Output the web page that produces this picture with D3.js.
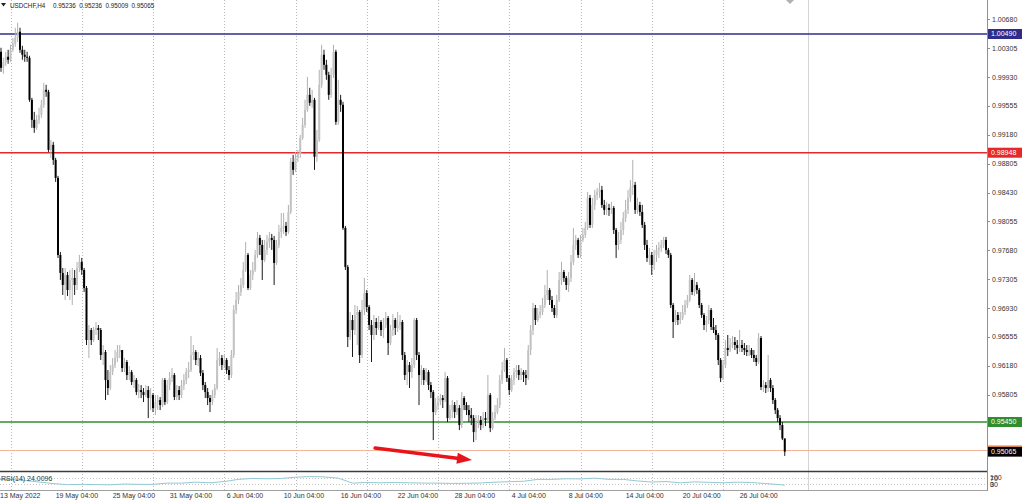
<!DOCTYPE html>
<html><head><meta charset="utf-8">
<script src="https://cdn.jsdelivr.net/npm/d3@7"></script>
<style>html,body{margin:0;padding:0;background:#fff;overflow:hidden}svg text{white-space:pre}</style>
</head><body><svg id="c" width="1024" height="500"></svg>
<script>
// ---------------- DATA ----------------
const symbol = "USDCHF,H4";
const firstOpen = 1.00311;
const closes = [
1.00285,1.00259,1.00051,1.00129,1.00194,1.00155,1.00285,1.00363,1.00441,1.00519,
1.00285,1.00220,1.00194,1.00181,0.99635,0.99375,0.99271,0.99375,0.99440,0.99570,
0.99765,0.99739,0.98985,0.99050,0.98855,0.98621,0.97620,0.97386,0.97230,0.97360,
0.97165,0.97295,0.97321,0.97230,0.97451,0.97529,0.97425,0.97191,0.96515,0.96645,
0.96515,0.96645,0.96671,0.96645,0.96320,0.96359,0.95995,0.95891,0.96099,0.96190,
0.96281,0.96359,0.96385,0.96151,0.96229,0.96060,0.96099,0.95969,0.95995,0.95839,
0.95865,0.95839,0.95800,0.95865,0.95761,0.95800,0.95631,0.95709,0.95735,0.95670,
0.95995,0.95709,0.95930,0.96021,0.96060,0.95774,0.95865,0.95800,0.95930,0.95995,
0.96099,0.96125,0.96320,0.96359,0.96255,0.96281,0.96086,0.95930,0.95839,0.95761,
0.95709,0.95800,0.95891,0.96255,0.96281,0.96190,0.96255,0.96125,0.96060,0.96320,
0.96905,0.97035,0.97139,0.97230,0.97425,0.97620,0.97191,0.97360,0.97425,0.97620,
0.97841,0.97750,0.97555,0.97685,0.97789,0.97841,0.97815,0.97516,0.97750,0.97919,
0.97971,0.97997,0.97919,0.98179,0.98829,0.98725,0.98881,0.98933,0.99141,0.99310,
0.99505,0.99700,0.99596,0.99635,0.98894,0.99115,0.99830,1.00220,1.00090,0.99960,
0.99700,0.99960,1.00259,0.99349,0.99635,0.99570,0.97971,0.97464,0.96554,0.96775,
0.96645,0.96840,0.96879,0.96320,0.96905,0.97126,0.96944,0.96710,0.96580,0.96749,
0.96671,0.96749,0.96645,0.96710,0.96801,0.96476,0.96645,0.96775,0.96671,0.96710,
0.96749,0.96320,0.96060,0.96190,0.96099,0.96190,0.96775,0.96320,0.96060,0.96125,
0.95995,0.96099,0.95930,0.95839,0.95579,0.95670,0.95709,0.95761,0.95735,0.96021,
0.95501,0.95605,0.95670,0.95579,0.95631,0.95410,0.95761,0.95670,0.95605,0.95540,
0.95501,0.95319,0.95449,0.95475,0.95410,0.95501,0.95475,0.95800,0.95371,0.95501,
0.95579,0.95670,0.95995,0.96125,0.96255,0.96021,0.95865,0.95995,0.96099,0.96125,
0.96060,0.96099,0.96060,0.96021,0.96385,0.96645,0.96931,0.96775,0.96840,0.96879,
0.96970,0.97100,0.97165,0.97035,0.96931,0.96840,0.97035,0.97295,0.97399,0.97321,
0.97230,0.97321,0.97529,0.97750,0.97815,0.97620,0.97815,0.97880,0.97971,0.98361,
0.98010,0.98270,0.98400,0.98439,0.98465,0.98270,0.98205,0.98231,0.98205,0.98231,
0.97945,0.97750,0.97815,0.97945,0.98101,0.98205,0.98361,0.98491,0.98530,0.98205,
0.98270,0.98179,0.98010,0.97750,0.97581,0.97620,0.97490,0.97620,0.97685,0.97711,
0.97750,0.97815,0.97685,0.97620,0.96970,0.96749,0.96840,0.96775,0.96801,0.96879,
0.96970,0.97035,0.97295,0.97139,0.97230,0.97165,0.96970,0.96840,0.96710,0.96775,
0.96905,0.96684,0.96645,0.96580,0.96255,0.96021,0.96190,0.96411,0.96385,0.96450,
0.96489,0.96450,0.96411,0.96450,0.96411,0.96385,0.96359,0.96385,0.96320,0.96281,
0.96229,0.96541,0.95904,0.95930,0.95891,0.95995,0.95891,0.95735,0.95605,0.95501,
0.95410,0.95236,0.95065];
const highs = [
1.00350,1.00337,1.00311,1.00181,1.00259,1.00285,1.00350,1.00441,1.00571,1.00636,
1.00571,1.00337,1.00285,1.00259,1.00207,0.99661,0.99479,0.99440,0.99531,0.99635,
0.99856,0.99830,0.99765,0.99115,0.99089,0.98881,0.98647,0.97659,0.97451,0.97451,
0.97399,0.97425,0.97451,0.97425,0.97529,0.97620,0.97581,0.97451,0.97217,0.96710,
0.96671,0.96684,0.96749,0.96710,0.96671,0.96450,0.96385,0.96125,0.96190,0.96281,
0.96385,0.96450,0.96450,0.96385,0.96281,0.96255,0.96177,0.96125,0.96060,0.96021,
0.95943,0.95930,0.95891,0.95930,0.95917,0.95891,0.95826,0.95800,0.95800,0.95774,
0.96021,0.96021,0.95995,0.96099,0.96151,0.96086,0.95930,0.95917,0.95995,0.96073,
0.96151,0.96229,0.96567,0.96450,0.96385,0.96359,0.96320,0.96125,0.95969,0.95891,
0.95800,0.95865,0.95943,0.96411,0.96359,0.96320,0.96333,0.96281,0.96177,0.96385,
0.96970,0.97139,0.97230,0.97321,0.97529,0.97789,0.97646,0.97425,0.97529,0.97685,
0.97919,0.97880,0.97815,0.97815,0.97880,0.97919,0.97893,0.97867,0.97815,0.98010,
0.98166,0.98166,0.98049,0.98270,0.98881,0.98920,0.98959,0.98985,0.99180,0.99401,
0.99635,0.99934,0.99791,0.99765,0.99661,0.99245,1.00025,1.00350,1.00285,1.00155,
0.99999,1.00051,1.00350,1.00285,0.99895,0.99700,0.99609,0.97997,0.97490,0.96879,
0.96840,0.96970,0.96957,0.96905,0.97035,0.97321,0.97165,0.96970,0.96775,0.96840,
0.96801,0.96827,0.96775,0.96801,0.96879,0.96827,0.96710,0.96853,0.96801,0.96879,
0.96840,0.96775,0.96359,0.96255,0.96229,0.96281,0.96801,0.96801,0.96359,0.96190,
0.96151,0.96151,0.96125,0.95969,0.95865,0.95761,0.95787,0.95813,0.95800,0.96099,
0.96047,0.95670,0.95735,0.95709,0.95735,0.95670,0.95839,0.95787,0.95709,0.95670,
0.95631,0.95540,0.95540,0.95540,0.95527,0.95579,0.95579,0.96060,0.95826,0.95579,
0.95670,0.95761,0.96060,0.96229,0.96411,0.96281,0.96060,0.96060,0.96151,0.96190,
0.96190,0.96151,0.96125,0.96125,0.96450,0.96710,0.96996,0.96970,0.96931,0.96970,
0.97061,0.97230,0.97425,0.97191,0.97087,0.96970,0.97100,0.97399,0.97529,0.97425,
0.97347,0.97399,0.97620,0.97971,0.97880,0.97841,0.97880,0.97971,0.98049,0.98439,
0.98400,0.98361,0.98465,0.98491,0.98556,0.98517,0.98335,0.98309,0.98283,0.98309,
0.98257,0.97971,0.97919,0.98049,0.98179,0.98335,0.98465,0.98595,0.98855,0.98569,
0.98361,0.98309,0.98270,0.98049,0.97815,0.97711,0.97659,0.97685,0.97750,0.97789,
0.97815,0.97854,0.97854,0.97711,0.97646,0.96996,0.96905,0.96879,0.96879,0.96970,
0.97035,0.97100,0.97360,0.97321,0.97386,0.97269,0.97191,0.96996,0.96866,0.96827,
0.96970,0.96931,0.96801,0.96710,0.96606,0.96281,0.96255,0.96515,0.96580,0.96541,
0.96567,0.96554,0.96515,0.96645,0.96515,0.96476,0.96450,0.96450,0.96411,0.96385,
0.96320,0.96606,0.96567,0.95995,0.95969,0.96320,0.96021,0.95930,0.95761,0.95631,
0.95540,0.95449,0.95236];
const lows = [
1.00220,1.00181,0.99999,0.99973,1.00077,1.00103,1.00129,1.00259,1.00324,1.00389,
1.00246,1.00155,1.00129,1.00129,0.99609,0.99271,0.99206,0.99245,0.99323,0.99401,
0.99531,0.99674,0.98959,0.98881,0.98790,0.98569,0.97581,0.97295,0.97100,0.97035,
0.97087,0.97035,0.96970,0.97100,0.97165,0.97399,0.97360,0.97139,0.96450,0.96281,
0.96450,0.96489,0.96580,0.96515,0.96255,0.96190,0.95735,0.95800,0.95865,0.96060,
0.96151,0.96229,0.96281,0.96099,0.96099,0.95995,0.95995,0.95930,0.95891,0.95800,
0.95761,0.95761,0.95709,0.95774,0.95501,0.95605,0.95579,0.95540,0.95605,0.95605,
0.95644,0.95670,0.95683,0.95865,0.95969,0.95735,0.95735,0.95735,0.95761,0.95865,
0.95943,0.96021,0.96099,0.96255,0.96190,0.96177,0.96047,0.95865,0.95761,0.95670,
0.95579,0.95670,0.95761,0.95865,0.96177,0.96125,0.96151,0.96073,0.95995,0.96021,
0.96281,0.96853,0.96983,0.97087,0.97191,0.97399,0.97165,0.97165,0.97295,0.97399,
0.97581,0.97620,0.97295,0.97529,0.97620,0.97711,0.97685,0.97230,0.97490,0.97711,
0.97841,0.97893,0.97867,0.97893,0.98153,0.98660,0.98699,0.98829,0.98881,0.99115,
0.99271,0.99479,0.99557,0.99531,0.98725,0.98829,0.99089,0.99791,1.00025,0.99895,
0.99635,0.99661,0.99921,0.99310,0.99310,0.99479,0.97945,0.97425,0.96424,0.96515,
0.96294,0.96580,0.96450,0.96216,0.96281,0.96840,0.96879,0.96645,0.96229,0.96515,
0.96580,0.96645,0.96567,0.96541,0.96671,0.96320,0.96450,0.96567,0.96580,0.96619,
0.96645,0.96255,0.95995,0.95930,0.95891,0.96021,0.96151,0.96255,0.95670,0.95930,
0.95930,0.95969,0.95865,0.95761,0.95215,0.95540,0.95605,0.95670,0.95631,0.95709,
0.95449,0.95475,0.95501,0.95501,0.95540,0.95345,0.95371,0.95605,0.95540,0.95449,
0.95410,0.95189,0.95215,0.95371,0.95345,0.95371,0.95397,0.95449,0.95319,0.95345,
0.95475,0.95553,0.95631,0.95943,0.96099,0.95969,0.95800,0.95839,0.95930,0.96021,
0.95995,0.95995,0.95969,0.95930,0.95995,0.96320,0.96580,0.96710,0.96749,0.96801,
0.96840,0.96931,0.97035,0.96970,0.96879,0.96801,0.96801,0.97009,0.97230,0.97269,
0.97165,0.97139,0.97269,0.97490,0.97685,0.97581,0.97581,0.97789,0.97841,0.97945,
0.97971,0.97971,0.98205,0.98335,0.98361,0.98231,0.98140,0.98140,0.98127,0.98153,
0.97893,0.97581,0.97685,0.97763,0.97880,0.98049,0.98153,0.98309,0.98400,0.98153,
0.98153,0.98127,0.97971,0.97685,0.97529,0.97490,0.97360,0.97425,0.97529,0.97581,
0.97659,0.97711,0.97633,0.97581,0.96931,0.96541,0.96710,0.96710,0.96723,0.96775,
0.96840,0.96931,0.97009,0.97100,0.97087,0.97113,0.96931,0.96801,0.96645,0.96619,
0.96723,0.96645,0.96606,0.96515,0.96190,0.95969,0.95995,0.96151,0.96307,0.96359,
0.96411,0.96385,0.96333,0.96359,0.96359,0.96320,0.96307,0.96307,0.96281,0.96229,
0.96177,0.96203,0.95865,0.95839,0.95826,0.95839,0.95839,0.95683,0.95553,0.95449,
0.95345,0.95215,0.95009];

const rsiBars = [0,6,12,18,24,30,36,42,48,54,60,66,72,78,84,90,96,102,108,114,120,126,132,138,144,150,156,162,168,174,180,186,192,198,204,210,216,222,228,234,240,246,252,258,264,270,276,282,288,294,300,306,312,318,324,330,332];
const rsiValues = [60,62,55,45,35,28,30,28,27,32,30,30,38,38,44,40,48,62,68,66,68,76,80,78,70,38,42,40,42,40,38,38,36,37,39,44,47,50,62,62,66,65,70,62,62,52,45,48,40,46,43,40,44,42,35,28,24.0096];
const rsiLevels = [70, 30];
const rsiScaleLabels = [100, 70, 30, 0];

const priceTicks = [1.00680,1.00305,0.99930,0.99555,0.99180,0.98805,0.98430,0.98055,0.97680,0.97305,0.96930,0.96555,0.96180,0.95805];
const levelPrices = [1.00490, 0.98948, 0.95450];
const timeTickBars = [1,25,49,73,97,121,145,169,193,217,241,265,289,313];
const timeTickLabels = ["13 May 2022","19 May 04:00","25 May 04:00","31 May 04:00","6 Jun 04:00","10 Jun 04:00","16 Jun 04:00","22 Jun 04:00","28 Jun 04:00","4 Jul 04:00","8 Jul 04:00","14 Jul 04:00","20 Jul 04:00","26 Jul 04:00"];
const weekStartBars = [6,36,66,96,126,156,186,216,246,276,306];
const arrowBars = [159.5, 200.3];
const arrowPrices = [0.95111, 0.94955];

// ---------------- STYLE / LAYOUT ----------------
const FONT = "'Liberation Sans', Arial, sans-serif";
const FS = 7;
const HFS = 6.3;
const levelColors = ["#2e2e8a", "#e32a2a", "#2f8f2f"];
const plotRight = 987, mainBottom = 471, rsiTop = 473, rsiBottom = 490;

const svg = d3.select("#c");
const n = closes.length;
const x = d3.scaleLinear().domain([0, n - 1]).range([-3.75, 784.75]);
const y = d3.scaleLinear().domain([0.95450, 1.00490]).range([422, 34]);
const ry = d3.scaleLinear().domain([0, 100]).range([489, 473.5]);
const fmt = d3.format(".5f");

svg.append("rect").attr("width", 1024).attr("height", 500).attr("fill", "#fff");

const defs = svg.append("defs");
defs.append("clipPath").attr("id", "mainClip").append("rect")
  .attr("x", 0).attr("y", 0).attr("width", plotRight).attr("height", mainBottom);
defs.append("clipPath").attr("id", "rsiClip").append("rect")
  .attr("x", 0).attr("y", rsiTop).attr("width", plotRight).attr("height", rsiBottom - rsiTop);

// vertical week grid
svg.append("g").selectAll("line").data(weekStartBars).join("line")
  .attr("x1", d => Math.round(x(d)) + 0.5).attr("x2", d => Math.round(x(d)) + 0.5)
  .attr("y1", 0).attr("y2", rsiBottom)
  .attr("stroke", "#b8b8b8").attr("stroke-width", 1).attr("stroke-dasharray", "1,2");
// chart shift separator
svg.append("line").attr("x1", 808.5).attr("x2", 808.5).attr("y1", 0).attr("y2", rsiBottom)
  .attr("stroke", "#d4d4d4").attr("stroke-width", 1);
// chart shift marker
svg.append("path").attr("d", "M786,0 L794,0 L790,4 Z").attr("fill", "#b0b0b0");

const main = svg.append("g").attr("clip-path", "url(#mainClip)");

// level lines
main.selectAll("line.level").data(levelPrices).join("line").attr("class", "level")
  .attr("x1", 0).attr("x2", plotRight)
  .attr("y1", d => y(d)).attr("y2", d => y(d))
  .attr("stroke", (d, i) => levelColors[i]).attr("stroke-width", 1.4);
// bid line
const bid = closes[n - 1];
main.append("line").attr("x1", 0).attr("x2", plotRight)
  .attr("y1", Math.round(y(bid)) - 1.5).attr("y2", Math.round(y(bid)) - 1.5)
  .attr("stroke", "#f2b49a").attr("stroke-width", 1);

// candles
const bars = closes.map((c, i) => ({ i, o: i ? closes[i - 1] : firstOpen, h: highs[i], l: lows[i], c }));
const cg = main.append("g");
cg.selectAll("line.wick").data(bars).join("line").attr("class", "wick")
  .attr("x1", d => x(d.i)).attr("x2", d => x(d.i))
  .attr("y1", d => y(d.h)).attr("y2", d => y(d.l))
  .attr("stroke", d => d.c >= d.o ? "#b0b0b0" : "#1a1a1a").attr("stroke-width", 1);
cg.selectAll("rect.body").data(bars).join("rect").attr("class", "body")
  .attr("x", d => x(d.i) - 1).attr("width", 2)
  .attr("y", d => Math.min(y(d.o), y(d.c)))
  .attr("height", d => Math.max(1, Math.abs(y(d.o) - y(d.c))))
  .attr("fill", d => d.c >= d.o ? "#c2c2c2" : "#000");

// arrow annotation
const ax0 = x(arrowBars[0]), ay0 = y(arrowPrices[0]), ax1 = x(arrowBars[1]), ay1 = y(arrowPrices[1]);
const ang = Math.atan2(ay1 - ay0, ax1 - ax0);
const hl = 15, hw = 5.5;
const bx = ax1 - hl * Math.cos(ang), by = ay1 - hl * Math.sin(ang);
main.append("line").attr("x1", ax0).attr("y1", ay0).attr("x2", bx).attr("y2", by)
  .attr("stroke", "#e8141c").attr("stroke-width", 3.5).attr("stroke-linecap", "round");
main.append("path").attr("fill", "#e8141c").attr("d",
  `M${ax1},${ay1} L${bx - hw * Math.sin(ang)},${by + hw * Math.cos(ang)} L${bx + hw * Math.sin(ang)},${by - hw * Math.cos(ang)} Z`);

// header
svg.append("path").attr("d", "M1,3 L6,3 L3.5,6.5 Z").attr("fill", "#222");
const headerVals = [bars[n-1].o, bars[n-1].h, bars[n-1].l, bars[n-1].c];
const hg = svg.append("g").attr("font-family", FONT).attr("font-size", HFS).attr("fill", "#222");
hg.append("text").attr("x", 10).attr("y", 8).text(symbol);
hg.selectAll("text.hv").data(headerVals).join("text").attr("class", "hv")
  .attr("x", (d, i) => 53 + i * 26.2).attr("y", 8).text(d => fmt(d));

// panel borders
svg.append("line").attr("x1", 0).attr("x2", plotRight).attr("y1", 471.5).attr("y2", 471.5)
  .attr("stroke", "#3c3c3c").attr("stroke-width", 1.5);
svg.append("line").attr("x1", 0).attr("x2", plotRight).attr("y1", rsiBottom + 0.5).attr("y2", rsiBottom + 0.5)
  .attr("stroke", "#a0a0a0").attr("stroke-width", 1);
svg.append("line").attr("x1", plotRight + 0.5).attr("x2", plotRight + 0.5).attr("y1", 0).attr("y2", rsiBottom + 1)
  .attr("stroke", "#909090").attr("stroke-width", 1);

// price axis
const ya = svg.append("g");
ya.selectAll("line").data(priceTicks).join("line")
  .attr("x1", plotRight).attr("x2", plotRight + 3)
  .attr("y1", d => Math.round(y(d)) + 0.5).attr("y2", d => Math.round(y(d)) + 0.5)
  .attr("stroke", "#909090");
ya.selectAll("text").data(priceTicks).join("text")
  .attr("x", 992).attr("y", d => y(d)).attr("dy", "0.35em")
  .attr("font-family", FONT).attr("font-size", FS).attr("fill", "#333")
  .text(d => fmt(d));

// level labels
const lbl = svg.append("g");
const allLabels = levelPrices.map((p, i) => ({ p, fill: levelColors[i] })).concat([{ p: bid, fill: "#000" }]);
lbl.selectAll("rect").data(allLabels).join("rect")
  .attr("x", 988).attr("width", 34).attr("y", d => y(d.p) - 5).attr("height", 10)
  .attr("fill", d => d.fill);
lbl.append("line").attr("x1", 988).attr("x2", 1022)
  .attr("y1", y(bid) - 5.5).attr("y2", y(bid) - 5.5).attr("stroke", "#f07a30").attr("stroke-width", 1.2);
lbl.selectAll("text").data(allLabels).join("text")
  .attr("x", 991).attr("y", d => y(d.p)).attr("dy", "0.35em")
  .attr("font-family", FONT).attr("font-size", FS).attr("fill", "#fff")
  .text(d => fmt(d.p));

// RSI panel
const rg = svg.append("g").attr("clip-path", "url(#rsiClip)");
rg.selectAll("line").data(rsiLevels).join("line")
  .attr("x1", 0).attr("x2", plotRight)
  .attr("y1", d => Math.round(ry(d)) + 0.5).attr("y2", d => Math.round(ry(d)) + 0.5)
  .attr("stroke", "#c8c8c8").attr("stroke-dasharray", "1,2");
rg.append("path").datum(rsiBars.map((b, i) => [b, rsiValues[i]]))
  .attr("fill", "none").attr("stroke", "#93c9d3").attr("stroke-width", 1)
  .attr("d", d3.line().x(d => x(d[0])).y(d => ry(d[1])));
svg.append("text").attr("x", 1).attr("y", 480.5).attr("font-family", FONT).attr("font-size", FS).attr("fill", "#333")
  .text(`RSI(14) ${rsiValues[rsiValues.length - 1].toFixed(4)}`);
svg.selectAll("text.rsil").data(rsiScaleLabels).join("text").attr("class", "rsil")
  .attr("x", 990).attr("y", d => Math.min(Math.max(ry(d), 477.5), 485)).attr("dy", "0.35em")
  .attr("font-family", FONT).attr("font-size", FS).attr("fill", "#333")
  .text(d => d);

// time axis
svg.selectAll("text.tl").data(timeTickBars).join("text").attr("class", "tl")
  .attr("x", d => Math.max(0, x(d))).attr("y", 498)
  .attr("font-family", FONT).attr("font-size", FS).attr("fill", "#333")
  .text((d, i) => timeTickLabels[i]);
</script>
</body></html>
